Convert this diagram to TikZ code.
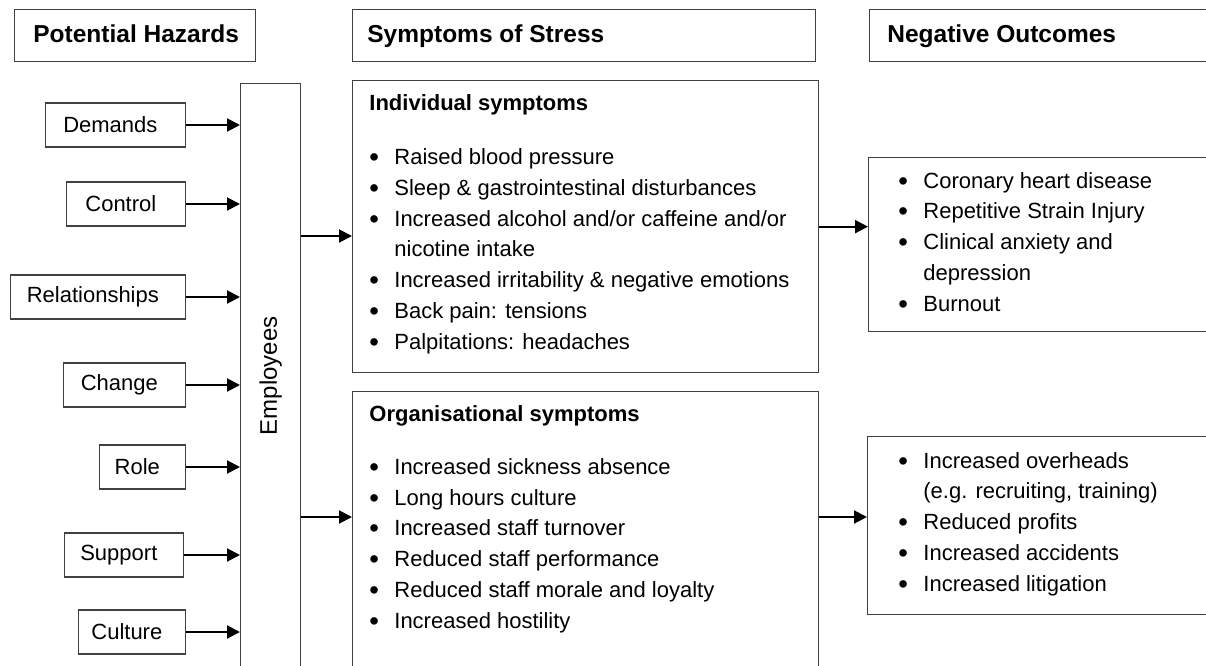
\documentclass[tikz,border=0pt]{standalone}
\usepackage{fontspec}
\setmainfont{Liberation Sans}
\usetikzlibrary{arrows.meta}
\newcommand{\bul}{\makebox[12.5pt][l]{\raisebox{-1pt}{\scalebox{1.25}{•}}}}

\begin{document}
\begin{tikzpicture}[x=0.5pt, y=-0.5pt,
  box/.style={draw=black!75, line width=0.65pt, anchor=north west, inner sep=0pt},
  hazard/.style={box, anchor=east, minimum height=22pt, font=\fontsize{11}{13}\selectfont, execute at end node={\hspace{5pt}}},
  head/.style={anchor=base west, inner sep=0pt, font=\fontsize{12.25}{15}\selectfont\bfseries},
  sub/.style={head, font=\fontsize{11}{13}\selectfont\bfseries},
  txt/.style={anchor=base west, inner sep=0pt, align=left, font=\fontsize{11}{15.35}\selectfont},
  arr/.style={-{Triangle[length=6.5pt,width=6.5pt]}, line width=1pt}]
\useasboundingbox (0,0) rectangle (1206,665);
\clip (0,0) rectangle (1206,665);
%Headers
\node[box, minimum width=120.5pt, minimum height=26pt] (phbox) at (14,9) {};
\node[head] (ph) at (33,42) {Potential Hazards};
\node[box, minimum width=231.5pt, minimum height=26pt] (ssbox) at (352,9) {};
\node[head] (ss) at (367,42) {Symptoms of Stress};
\node[box, minimum width=185pt, minimum height=26pt] (nobox) at (869,9) {};
\node[head] (no) at (887,42) {Negative Outcomes};
%Hazards
\node[hazard, minimum width=70pt] (dem) at (186,125) {Demands};
\node[hazard, minimum width=59.5pt] (ctl) at (186,204) {Control};
\node[hazard, minimum width=87.5pt] (rel) at (186,297) {Relationships};
\node[hazard, minimum width=61pt] (chg) at (186,385) {Change};
\node[hazard, minimum width=43pt] (rol) at (186,467) {Role};
\node[hazard, minimum width=59.5pt] (sup) at (184,555) {Support};
\node[hazard, minimum width=53.5pt] (cul) at (186,632) {Culture};
\node[box, minimum width=30pt, minimum height=292pt, font=\fontsize{12}{14}\selectfont] (emp) at (240,83) {\rotatebox{90}{Employees}};
%Symptoms (lists placed by the baseline of their last line)
\node[box, minimum width=233pt, minimum height=146pt] (ind) at (352,80) {};
\node[sub] (indt) at (369,110) {Individual symptoms};
\node[txt] (indl) at (369,349) {\bul Raised blood pressure\\
  \bul Sleep \& gastrointestinal disturbances\\
  \bul Increased alcohol and/or caffeine and/or\\
  \hspace*{12.5pt}nicotine intake\\
  \bul Increased irritability \& negative emotions\\
  \bul Back pain: tensions\\
  \bul Palpitations: headaches};
\node[box, minimum width=233pt, minimum height=160pt] (org) at (352,391) {};
\node[sub] (orgt) at (369,421) {Organisational symptoms};
\node[txt] (orgl) at (369,628) {\bul Increased sickness absence\\
  \bul Long hours culture\\
  \bul Increased staff turnover\\
  \bul Reduced staff performance\\
  \bul Reduced staff morale and loyalty\\
  \bul Increased hostility};
%Outcomes
\node[box, minimum width=185pt, minimum height=87pt] (out1) at (868,157) {};
\node[txt] (out1l) at (898,311) {\bul Coronary heart disease\\
  \bul Repetitive Strain Injury\\
  \bul Clinical anxiety and\\
  \hspace*{12.5pt}depression\\
  \bul Burnout};
\node[box, minimum width=185pt, minimum height=89pt] (out2) at (867,436) {};
\node[txt] (out2l) at (898,591) {\bul Increased overheads\\
  \hspace*{12.5pt}(e.g. recruiting, training)\\
  \bul Reduced profits\\
  \bul Increased accidents\\
  \bul Increased litigation};
%Arrows
\coordinate (irow) at (0,236);
\coordinate (orow) at (0,517);
\foreach \h in {dem,ctl,rel,chg,rol,sup,cul}
  \draw[arr] (\h.east) -- (\h.east -| emp.west);
\draw[arr] (emp.east |- irow) -- (ind.west |- irow);
\draw[arr] (emp.east |- orow) -- (org.west |- orow);
\draw[arr] (ind.east) -- (ind.east -| out1.west);
\draw[arr] (org.east |- orow) -- (out2.west |- orow);
\end{tikzpicture}
\end{document}
